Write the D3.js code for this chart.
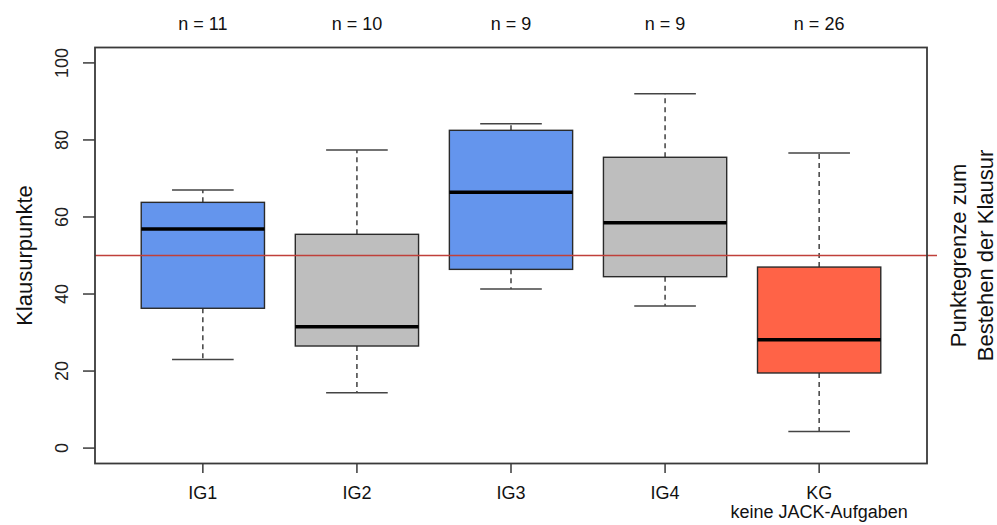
<!DOCTYPE html>
<html>
<head>
<meta charset="utf-8">
<script src="https://cdn.jsdelivr.net/npm/d3@7"></script>
<style>
  html, body { margin: 0; padding: 0; background: #fff; }
  svg { display: block; font-family: "Liberation Sans", Arial, Helvetica, sans-serif; }
</style>
</head>
<body>
<svg id="chart" width="997" height="525"></svg>
<script>
// Exam points per group (five-number summary of each box)
const groups      = ["IG1", "IG2", "IG3", "IG4", "KG"];
const subLabels   = ["", "", "", "", "keine JACK-Aufgaben"];
const counts      = [11, 10, 9, 9, 26];
const whiskerLow  = [23.0, 14.4, 41.3, 36.9, 4.3];
const lowerQuart  = [36.3, 26.5, 46.4, 44.5, 19.5];
const medians     = [56.9, 31.5, 66.4, 58.5, 28.1];
const upperQuart  = [63.8, 55.5, 82.5, 75.5, 47.0];
const whiskerHigh = [67.0, 77.4, 84.2, 92.0, 76.6];
const fills       = ["#6495ED", "#BEBEBE", "#6495ED", "#BEBEBE", "#FF6347"];
const yTicks      = [0, 20, 40, 60, 80, 100];
const passMark    = 50;

const rows = groups.map((g, i) => ({
  group: g, sub: subLabels[i], n: counts[i],
  lo: whiskerLow[i], q1: lowerQuart[i], med: medians[i],
  q3: upperQuart[i], hi: whiskerHigh[i], fill: fills[i]
}));

const svg = d3.select("#chart");
const frame = { left: 95, right: 927, top: 47.5, bottom: 463.5 };

// Category positions 1..5 with R-style padding
const x = d3.scaleLinear().domain([0.3, 5.7]).range([frame.left, frame.right]);
const y = d3.scaleLinear().domain([-4, 104]).range([frame.bottom, frame.top]);
const boxW = (x(1) - x(0)) * 0.8;
const capW = boxW * 0.5;

// Whiskers (dashed)
const g = svg.append("g");
rows.forEach((d, i) => {
  const cx = x(i + 1);
  g.append("line").attr("x1", cx).attr("x2", cx)
    .attr("y1", y(d.q3)).attr("y2", y(d.hi))
    .attr("stroke", "#333").attr("stroke-width", 1.4).attr("stroke-dasharray", "5,4");
  g.append("line").attr("x1", cx).attr("x2", cx)
    .attr("y1", y(d.q1)).attr("y2", y(d.lo))
    .attr("stroke", "#333").attr("stroke-width", 1.4).attr("stroke-dasharray", "5,4");
  // caps
  [d.hi, d.lo].forEach(v => {
    g.append("line").attr("x1", cx - capW / 2).attr("x2", cx + capW / 2)
      .attr("y1", y(v)).attr("y2", y(v))
      .attr("stroke", "#444").attr("stroke-width", 1.5);
  });
});

// Boxes
g.selectAll("rect.box").data(rows).join("rect")
  .attr("class", "box")
  .attr("x", (d, i) => x(i + 1) - boxW / 2)
  .attr("width", boxW)
  .attr("y", d => y(d.q3))
  .attr("height", d => y(d.q1) - y(d.q3))
  .attr("fill", d => d.fill)
  .attr("stroke", "#2a2a2a").attr("stroke-width", 1.4);

// Medians
g.selectAll("line.med").data(rows).join("line")
  .attr("class", "med")
  .attr("x1", (d, i) => x(i + 1) - boxW / 2)
  .attr("x2", (d, i) => x(i + 1) + boxW / 2)
  .attr("y1", d => y(d.med)).attr("y2", d => y(d.med))
  .attr("stroke", "#000").attr("stroke-width", 3.5);

// Pass mark line
svg.append("line")
  .attr("x1", frame.left).attr("x2", 937)
  .attr("y1", y(passMark)).attr("y2", y(passMark))
  .attr("stroke", "#C0403A").attr("stroke-width", 1.5);

// Plot frame
svg.append("rect")
  .attr("x", frame.left).attr("y", frame.top)
  .attr("width", frame.right - frame.left).attr("height", frame.bottom - frame.top)
  .attr("fill", "none").attr("stroke", "#3a3a3a").attr("stroke-width", 1.8);

// Y axis (ticks + rotated labels)
const yAxis = svg.append("g");
yAxis.selectAll("line").data(yTicks).join("line")
  .attr("x1", 83).attr("x2", frame.left)
  .attr("y1", d => y(d)).attr("y2", d => y(d))
  .attr("stroke", "#3a3a3a").attr("stroke-width", 1.5);
yAxis.selectAll("text").data(yTicks).join("text")
  .attr("transform", d => `translate(68,${y(d)}) rotate(-90)`)
  .attr("text-anchor", "middle")
  .attr("font-size", 18).attr("fill", "#222")
  .text(d => d);

// X axis ticks and labels
const xAxis = svg.append("g");
xAxis.selectAll("line").data(rows).join("line")
  .attr("x1", (d, i) => x(i + 1)).attr("x2", (d, i) => x(i + 1))
  .attr("y1", frame.bottom).attr("y2", 473)
  .attr("stroke", "#3a3a3a").attr("stroke-width", 1.5);
xAxis.selectAll("text.cat").data(rows).join("text")
  .attr("class", "cat")
  .attr("x", (d, i) => x(i + 1)).attr("y", 499)
  .attr("text-anchor", "middle").attr("font-size", 18).attr("fill", "#111")
  .text(d => d.group);
xAxis.selectAll("text.sub").data(rows.filter(d => d.sub)).join("text")
  .attr("class", "sub")
  .attr("x", d => x(groups.indexOf(d.group) + 1)).attr("y", 518)
  .attr("text-anchor", "middle").attr("font-size", 18).attr("fill", "#111")
  .text(d => d.sub);

// Group sizes above the plot
svg.selectAll("text.n").data(rows).join("text")
  .attr("class", "n")
  .attr("x", (d, i) => x(i + 1)).attr("y", 30)
  .attr("text-anchor", "middle").attr("font-size", 18).attr("fill", "#111")
  .text(d => `n = ${d.n}`);

// Axis titles
svg.append("text")
  .attr("transform", `translate(32,${(frame.top + frame.bottom) / 2}) rotate(-90)`)
  .attr("text-anchor", "middle").attr("font-size", 22).attr("fill", "#111")
  .text("Klausurpunkte");
svg.append("text")
  .attr("transform", `translate(966,${y(passMark)}) rotate(-90)`)
  .attr("text-anchor", "middle").attr("font-size", 22).attr("fill", "#111")
  .text("Punktegrenze zum");
svg.append("text")
  .attr("transform", `translate(993,${y(passMark)}) rotate(-90)`)
  .attr("text-anchor", "middle").attr("font-size", 22).attr("fill", "#111")
  .text("Bestehen der Klausur");
</script>
</body>
</html>
